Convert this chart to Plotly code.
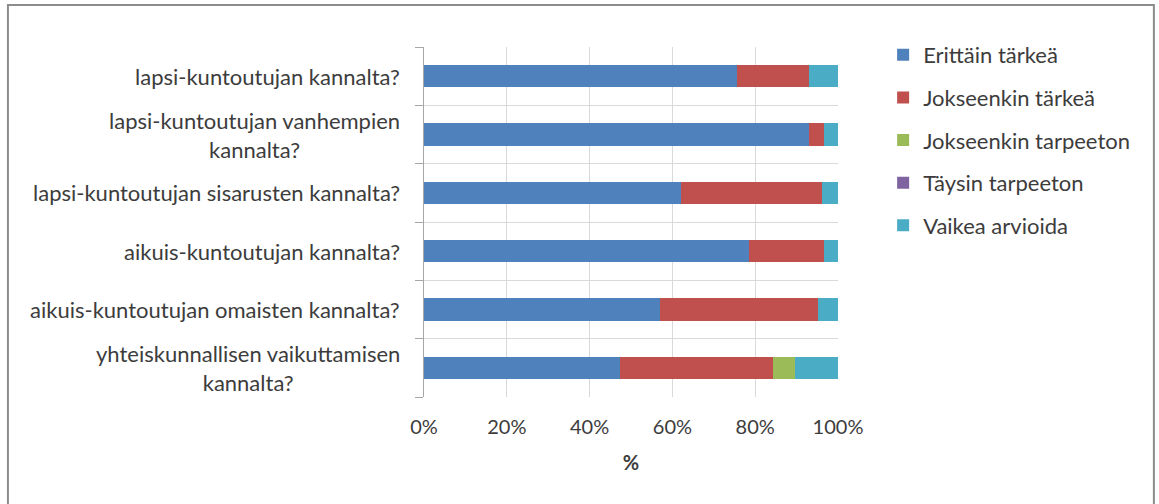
import plotly.graph_objects as go

categories = [
    "lapsi-kuntoutujan kannalta?",
    "lapsi-kuntoutujan vanhempien<br>kannalta?",
    "lapsi-kuntoutujan sisarusten kannalta?",
    "aikuis-kuntoutujan kannalta?",
    "aikuis-kuntoutujan omaisten kannalta?",
    "yhteiskunnallisen vaikuttamisen<br>kannalta?",
]
series_names = ["Erittäin tärkeä", "Jokseenkin tärkeä", "Jokseenkin tarpeeton",
                "Täysin tarpeeton", "Vaikea arvioida"]
erittain_tarkea = [75.6, 93.1, 62.0, 78.6, 57.0, 47.4]
jokseenkin_tarkea = [17.3, 3.45, 34.2, 17.9, 38.1, 36.8]
jokseenkin_tarpeeton = [0, 0, 0, 0, 0, 5.3]
taysin_tarpeeton = [0, 0, 0, 0, 0, 0]
vaikea_arvioida = [7.1, 3.45, 3.8, 3.5, 4.9, 10.5]
series_values = [erittain_tarkea, jokseenkin_tarkea, jokseenkin_tarpeeton,
                 taysin_tarpeeton, vaikea_arvioida]
colors = ["#4F81BD", "#C0504D", "#9BBB59", "#8064A2", "#4BACC6"]
x_ticks = [0, 20, 40, 60, 80, 100]
x_ticktext = ["0%", "20%", "40%", "60%", "80%", "100%"]

FONT = "Lato"
TXT = "#3C3C3C"
positions = list(range(len(categories)))

fig = go.Figure()
for i, (name, vals, col) in enumerate(zip(series_names, series_values, colors)):
    fig.add_trace(go.Bar(
        y=positions, x=vals, name=name, orientation="h",
        marker=dict(color=col, line=dict(width=0)),
        width=0.38, legendgroup=f"g{i}",
    ))

for p, cat in zip(positions, categories):
    fig.add_annotation(
        x=0, xref="paper", y=p, yref="y", text=cat, showarrow=False,
        xanchor="right", yanchor="middle", align="center", xshift=-22,
        font=dict(family=FONT, size=22, color=TXT),
    )

fig.update_layout(
    barmode="stack",
    width=1159, height=504,
    margin=dict(l=424, r=321, t=47, b=107),
    paper_bgcolor="white", plot_bgcolor="white",
    font=dict(family=FONT, size=21, color=TXT),
    showlegend=True,
    legend=dict(
        x=1.109, xanchor="left", y=1.037, yanchor="top",
        traceorder="grouped", tracegroupgap=11,
        font=dict(family=FONT, size=22, color=TXT),
        itemwidth=30, bgcolor="rgba(0,0,0,0)",
    ),
    xaxis=dict(
        range=[0, 100], tickvals=x_ticks, ticktext=x_ticktext,
        showgrid=True, gridcolor="#D9D9D9", gridwidth=1,
        zeroline=False, showline=False, ticks="",
        ticklabelstandoff=16,
        tickfont=dict(family=FONT, size=20, color=TXT),
        title=dict(text="<b>%</b>", font=dict(family=FONT, size=20, color=TXT), standoff=18),
    ),
    yaxis=dict(
        range=[5.5, -0.5], tickvals=positions, showticklabels=False,
        showgrid=False, zeroline=False, showline=True, linecolor="#A6A6A6", linewidth=1,
        ticks="",
        minor=dict(tickvals=[k - 0.5 for k in range(len(categories) + 1)],
                   showgrid=True, gridcolor="#D9D9D9", ticks="outside",
                   ticklen=8, tickcolor="#A6A6A6"),
    ),
    shapes=[dict(type="rect", xref="paper", yref="paper",
                 x0=-1.005, x1=1.763, y0=-0.33, y1=1.12,
                 line=dict(color="#8C8C8C", width=2), layer="below")],
)

fig.write_html("out.html")
